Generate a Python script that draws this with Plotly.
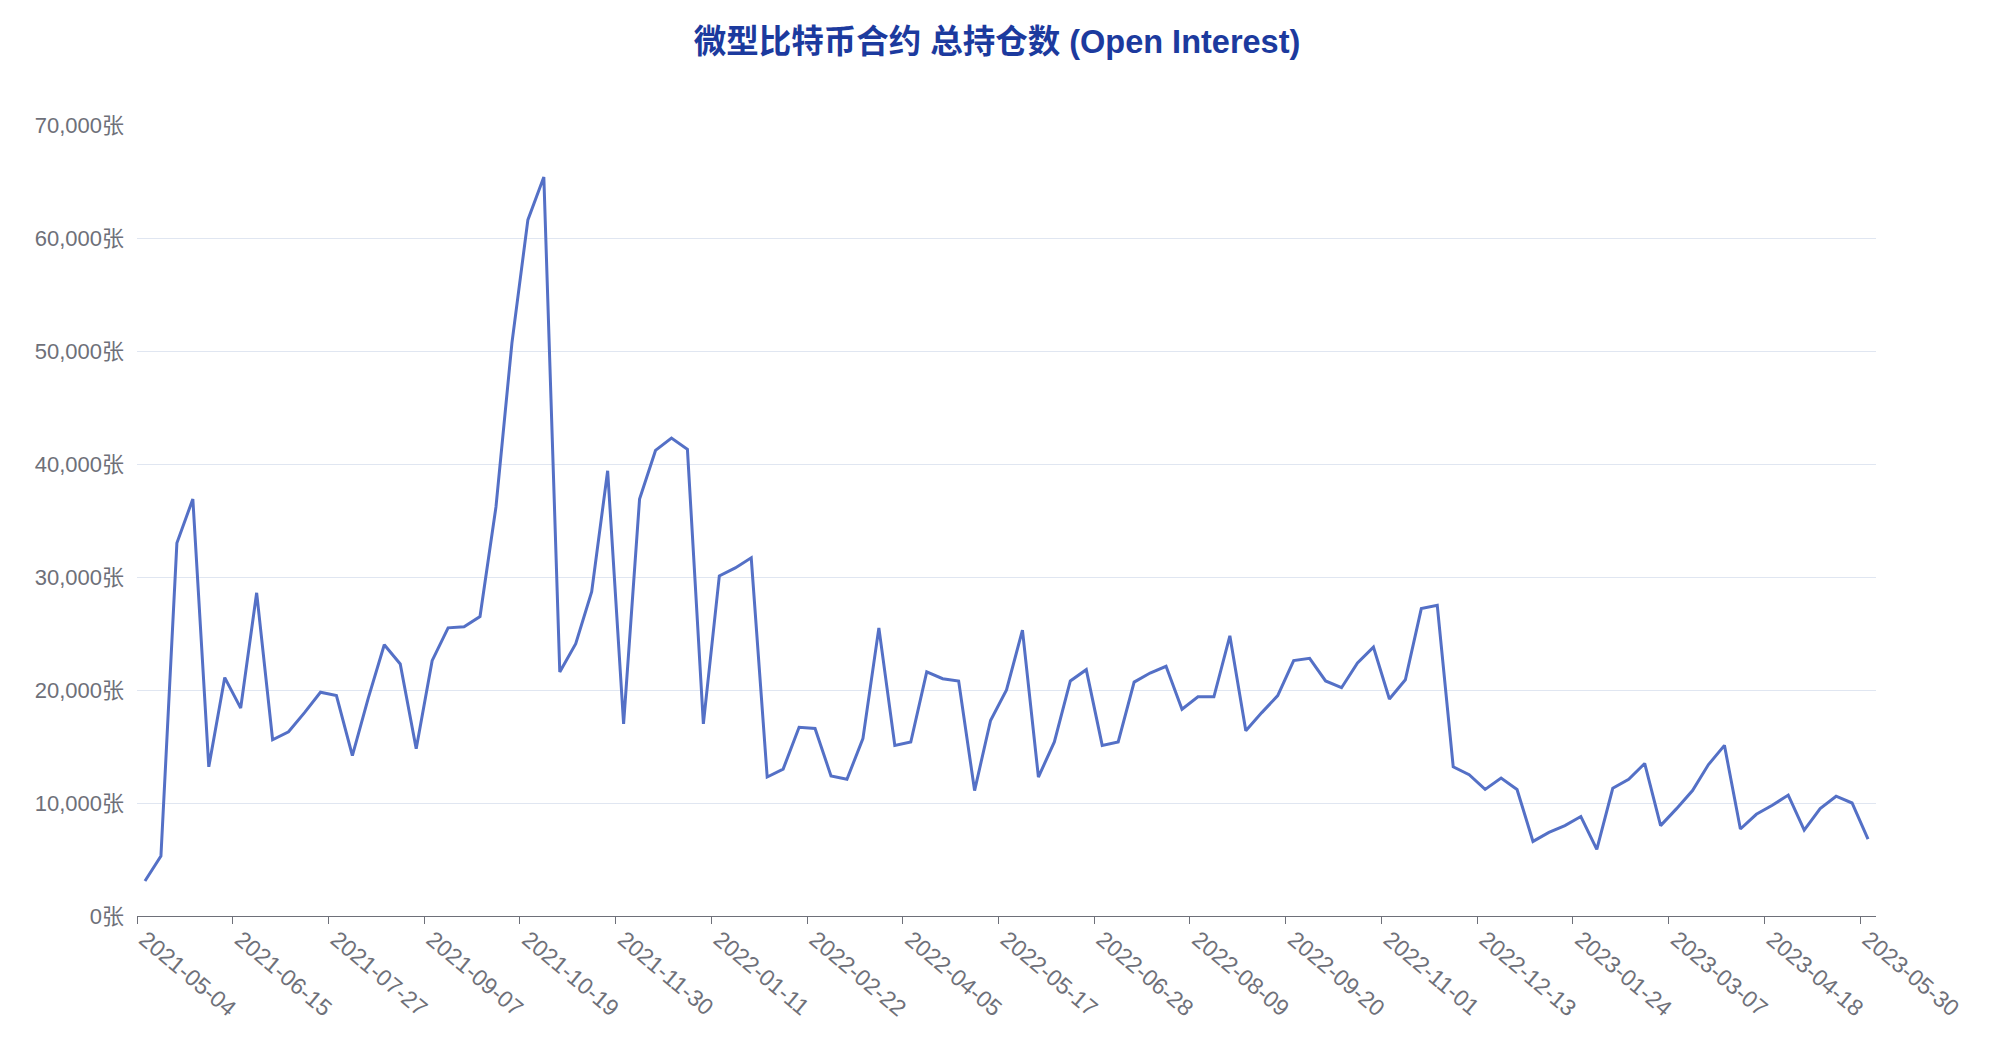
import pandas as pd
import plotly.graph_objects as go

# weekly report dates (categories)
dates = [d.strftime("%Y-%m-%d") for d in pd.date_range("2021-05-04", periods=109, freq="7D")]

# open interest (contracts)
open_interest = [
    3100, 5300, 33000, 36900, 13200, 21100, 18400, 28600, 15600, 16300,
    18000, 19800, 19500, 14200, 19300, 24000, 22300, 14800, 22600, 25500,
    25600, 26500, 36200, 50700, 61600, 65400, 21600, 24100, 28700, 39400,
    17000, 36900, 41200, 42300, 41300, 17000, 30100, 30800, 31700, 12300,
    13000, 16700, 16600, 12400, 12100, 15700, 25500, 15100, 15400, 21600,
    21000, 20800, 11100, 17300, 20000, 25300, 12300, 15400, 20800, 21800,
    15100, 15400, 20700, 21500, 22100, 18300, 19400, 19400, 24800, 16400,
    18000, 19500, 22600, 22800, 20800, 20200, 22400, 23800, 19200, 20900,
    27200, 27500, 13200, 12500, 11200, 12200, 11200, 6600, 7400, 8000,
    8800, 5900, 11300, 12100, 13500, 8000, 9500, 11100, 13400, 15100,
    7700, 9000, 9800, 10700, 7600, 9500, 10600, 10000, 6800,
]

title_text = "微型比特币合约 总持仓数 (Open Interest)"
y_tickvals = [0, 10000, 20000, 30000, 40000, 50000, 60000, 70000]
y_ticktext = [f"{v:,}张" for v in y_tickvals]

FONT = "Liberation Sans, Noto Sans CJK SC, sans-serif"
AXIS_GREY = "#6e7079"

# the page body has an 8px margin, so the figure is sized to fit inside it
FIG_W, FIG_H = 1994 - 16, 1037 - 16

fig = go.Figure()
fig.add_trace(go.Scatter(
    x=dates,
    y=open_interest,
    mode="lines",
    line=dict(color="#5470c6", width=3),
    hoverinfo="x+y",
))

fig.update_layout(
    width=FIG_W,
    height=FIG_H,
    paper_bgcolor="white",
    plot_bgcolor="white",
    showlegend=False,
    margin=dict(l=129, r=110, t=117, b=113),
    font=dict(family=FONT, color=AXIS_GREY, size=22),
    title=dict(
        text="<b>" + title_text + "</b>",
        x=0.5,
        xanchor="center",
        xref="container",
        y=1 - 34 / FIG_H,
        yref="container",
        yanchor="middle",
        font=dict(family=FONT, size=32.5, color="#1c3a9e"),
    ),
    xaxis=dict(
        type="category",
        automargin=False,
        range=[-0.5, len(dates) - 0.5],
        tickmode="linear",
        tick0=0,
        dtick=6,
        tickson="boundaries",
        ticks="outside",
        ticklen=7,
        tickwidth=1,
        tickcolor=AXIS_GREY,
        tickangle=40,
        showline=True,
        linecolor=AXIS_GREY,
        linewidth=1,
        showgrid=False,
        zeroline=False,
        tickfont=dict(size=23, color=AXIS_GREY),
    ),
    yaxis=dict(
        automargin=False,
        range=[0, 70000],
        tickmode="array",
        tickvals=y_tickvals,
        ticktext=y_ticktext,
        showgrid=True,
        gridcolor="#e0e6f1",
        gridwidth=1,
        zeroline=False,
        showline=False,
        ticks="",
        ticklabelstandoff=12,
        tickfont=dict(size=22, color=AXIS_GREY),
    ),
)

# closing tick at the right end of the category axis
fig.add_shape(
    type="line",
    xref="x", yref="y",
    x0=len(dates) - 0.5, x1=len(dates) - 0.5,
    ysizemode="pixel", yanchor=0, y0=0, y1=-7,
    line=dict(color=AXIS_GREY, width=1),
)

fig.write_html("out.html")
